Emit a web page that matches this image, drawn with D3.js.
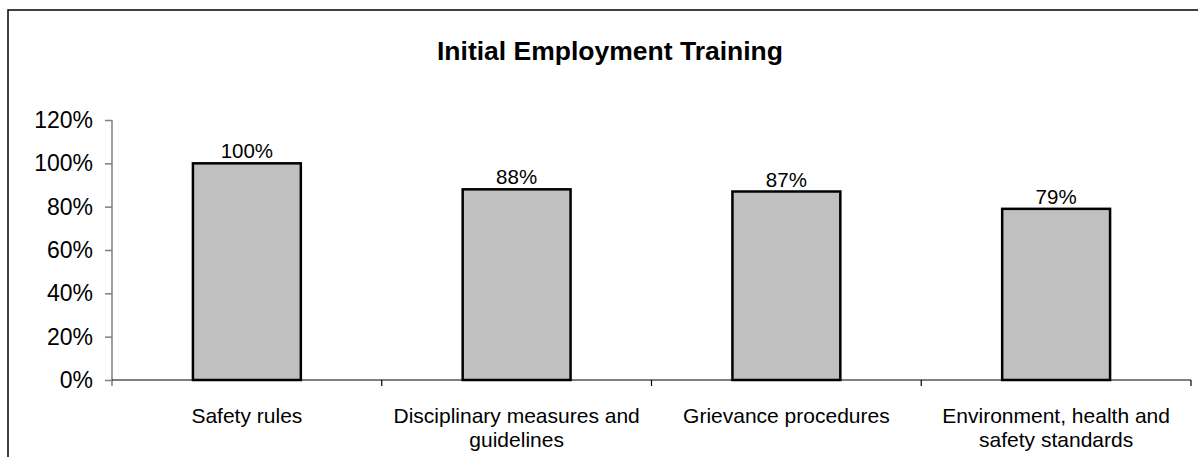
<!DOCTYPE html>
<html>
<head>
<meta charset="utf-8">
<script src="https://cdn.jsdelivr.net/npm/d3@7"></script>
<style>
  html, body { margin: 0; padding: 0; background: #fff; }
  svg { display: block; font-family: "Liberation Sans", Arial, sans-serif; }
</style>
</head>
<body>
<svg id="chart" width="1198" height="457"></svg>
<script>
// Share of staff who received each kind of training on first employment
const categories = [
  ["Safety rules"],
  ["Disciplinary measures and", "guidelines"],
  ["Grievance procedures"],
  ["Environment, health and", "safety standards"]
];
const values = [1.00, 0.88, 0.87, 0.79];
const yTicks = [0, 0.2, 0.4, 0.6, 0.8, 1.0, 1.2];
const title = "Initial Employment Training";

const svg = d3.select("#chart");

// outer chart frame
svg.append("rect")
  .attr("x", 8).attr("y", 10)
  .attr("width", 1220).attr("height", 500)
  .attr("fill", "none").attr("stroke", "#000").attr("stroke-width", 1.5);

const plot = { left: 112, right: 1191, top: 120, bottom: 380 };

const x = d3.scaleBand()
  .domain(d3.range(categories.length))
  .range([plot.left, plot.right])
  .paddingInner(0.6).paddingOuter(0.3);

const xTick = d3.scaleLinear().domain([0, categories.length]).range([plot.left, plot.right]);

const y = d3.scaleLinear().domain([0, 1.2]).range([plot.bottom, plot.top]);

// title
svg.append("text")
  .attr("x", 610).attr("y", 60)
  .attr("text-anchor", "middle")
  .attr("font-size", 26.5).attr("font-weight", "bold")
  .text(title);

// y axis
const yAxis = d3.axisLeft(y)
  .tickValues(yTicks)
  .tickFormat(d3.format(".0%"))
  .tickSize(7).tickPadding(12).tickSizeOuter(0);
const gy = svg.append("g").attr("transform", `translate(${plot.left},0)`).call(yAxis);
gy.select(".domain").attr("stroke", "#808080").attr("stroke-width", 1.5)
  .attr("d", `M0,${plot.top}V${plot.bottom + 6}`);
gy.selectAll(".tick line").attr("stroke", "#808080").attr("stroke-width", 1.5);
gy.selectAll(".tick text").attr("font-size", 23).attr("fill", "#000")
  .attr("font-family", "Liberation Sans, Arial, sans-serif");

// category axis line and separators
svg.append("line")
  .attr("x1", plot.left).attr("x2", plot.right)
  .attr("y1", plot.bottom).attr("y2", plot.bottom)
  .attr("stroke", "#000").attr("stroke-width", 1.2);
svg.selectAll(".xsep")
  .data(d3.range(1, categories.length + 1))
  .join("line")
  .attr("class", "xsep")
  .attr("x1", d => xTick(d)).attr("x2", d => xTick(d))
  .attr("y1", plot.bottom).attr("y2", plot.bottom + 6)
  .attr("stroke", "#000").attr("stroke-width", 1.2);

// bars
svg.selectAll(".bar")
  .data(values)
  .join("rect")
  .attr("class", "bar")
  .attr("x", (d, i) => x(i))
  .attr("y", d => y(d))
  .attr("width", x.bandwidth())
  .attr("height", d => y(0) - y(d))
  .attr("fill", "#c0c0c0")
  .attr("stroke", "#000").attr("stroke-width", 2.5);

// value labels
svg.selectAll(".val")
  .data(values)
  .join("text")
  .attr("class", "val")
  .attr("x", (d, i) => x(i) + x.bandwidth() / 2)
  .attr("y", d => y(d) - 5)
  .attr("text-anchor", "middle")
  .attr("font-size", 20.5)
  .text(d => d3.format(".0%")(d));

// category labels
const cat = svg.selectAll(".cat")
  .data(categories)
  .join("text")
  .attr("class", "cat")
  .attr("text-anchor", "middle")
  .attr("font-size", 21);
cat.selectAll("tspan")
  .data((d, i) => d.map(s => ({ s, i })))
  .join("tspan")
  .attr("x", d => x(d.i) + x.bandwidth() / 2)
  .attr("y", (d, j) => 423 + j * 24)
  .text(d => d.s);
</script>
</body>
</html>
